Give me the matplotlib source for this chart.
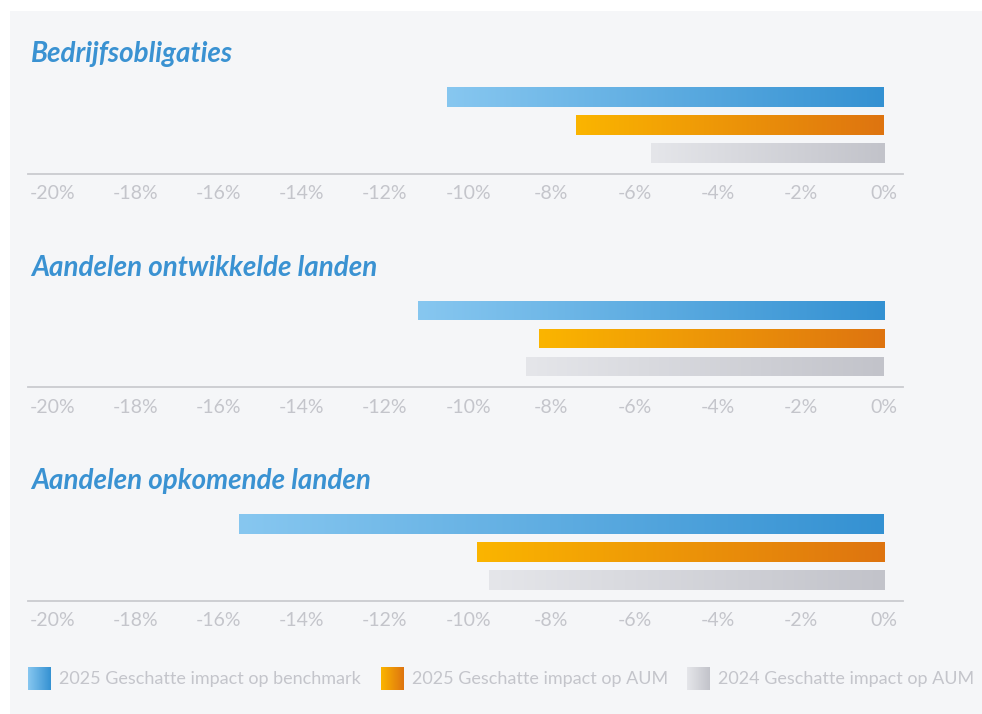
import matplotlib
matplotlib.use("Agg")
import matplotlib.pyplot as plt
import numpy as np
from matplotlib.colors import LinearSegmentedColormap
from matplotlib.patches import Rectangle

plt.rcParams['font.family'] = ['Lato', 'DejaVu Sans']

# data
panels = ["Bedrijfsobligaties", "Aandelen ontwikkelde landen", "Aandelen opkomende landen"]
series = ["2025 Geschatte impact op benchmark", "2025 Geschatte impact op AUM", "2024 Geschatte impact op AUM"]
bench_2025 = [-10.5, -11.2, -15.5]
aum_2025 = [-7.4, -8.3, -9.8]
aum_2024 = [-5.6, -8.6, -9.5]
ticks = [-20, -18, -16, -14, -12, -10, -8, -6, -4, -2, 0]
tick_labels = ["-20%", "-18%", "-16%", "-14%", "-12%", "-10%", "-8%", "-6%", "-4%", "-2%", "0%"]

grad_colors = [("#87c7f0", "#3491d2"), ("#fbb500", "#de7410"), ("#e5e6ea", "#c2c3ca")]
cmaps = [LinearSegmentedColormap.from_list("g%d" % i, c) for i, c in enumerate(grad_colors)]
title_color = "#3a92d2"
tick_color = "#c4c5cb"
line_color = "#cacbd0"
bg = "#f5f6f8"

W, H = 982, 714
fig = plt.figure(figsize=(W / 100, H / 100), dpi=100)
fig.patch.set_facecolor("white")
fig.patches.append(Rectangle((10 / W, 0), 1, 1 - 11 / H, transform=fig.transFigure,
                             facecolor=bg, edgecolor="none", zorder=-10))

grad = np.linspace(0, 1, 256).reshape(1, -1)
x0, x1 = -20.58, 0.45

for p, name in enumerate(panels):
    off = p * 213.5
    ax = fig.add_axes([28 / W, 1 - (174 + off) / H, 875 / W, 98 / H])
    ax.set_facecolor("none")
    vals = [bench_2025[p], aum_2025[p], aum_2024[p]]
    bars = ax.barh([0, 1, 2], vals, height=0.714, color="none", edgecolor="none")
    for i, b in enumerate(bars):
        y = b.get_y()
        im = ax.imshow(grad, cmap=cmaps[i], aspect="auto", interpolation="bicubic",
                       extent=(vals[i], 0, y + b.get_height(), y), zorder=2)
        im.set_clip_path(b)
    ax.set_xlim(x0, x1)
    ax.set_ylim(2.75, -0.75)
    for s in ["top", "left", "right"]:
        ax.spines[s].set_visible(False)
    ax.spines["bottom"].set_color(line_color)
    ax.spines["bottom"].set_linewidth(1.3)
    ax.set_yticks([])
    ax.set_xticks(ticks)
    ax.set_xticklabels(tick_labels, fontsize=14, color=tick_color)
    ax.tick_params(axis="x", length=0, pad=8)
    fig.text(31 / W, 1 - (62 + off) / H, name, fontsize=20, fontweight="bold", style="italic",
             color=title_color, ha="left", va="baseline")

# legend
lax = fig.add_axes([0, 0, 1, 1])
lax.set_xlim(0, W)
lax.set_ylim(H, 0)
lax.axis("off")
leg_x = [28, 381, 687]
for i, s in enumerate(series):
    lax.imshow(grad, cmap=cmaps[i], aspect="auto", extent=(leg_x[i], leg_x[i] + 23, 690, 667))
    lax.text(leg_x[i] + 31, 679, s, fontsize=13, color=tick_color,
             ha="left", va="center")
lax.set_xlim(0, W)
lax.set_ylim(H, 0)

fig.savefig("out.png", dpi=100, facecolor=fig.get_facecolor())
